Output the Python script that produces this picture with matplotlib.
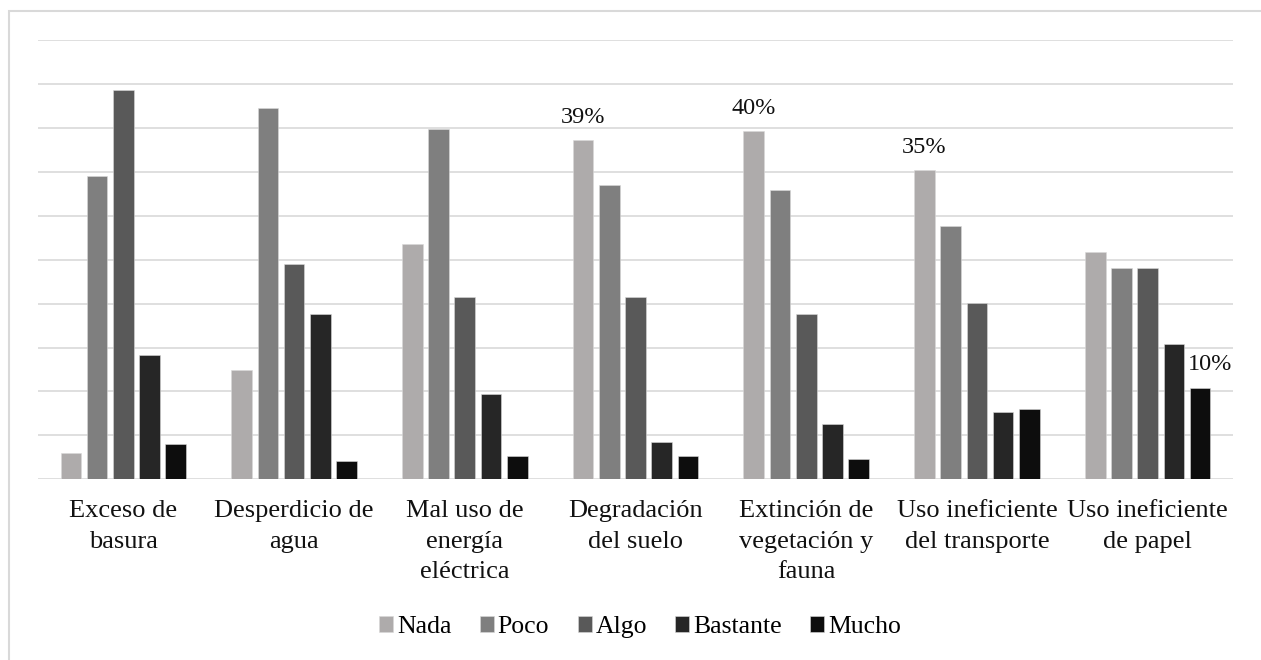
import numpy as np
import matplotlib.pyplot as plt
from matplotlib.patches import Rectangle

plt.rcParams['font.family'] = ['Liberation Serif', 'DejaVu Serif']

categorias = ['Exceso de\nbasura', 'Desperdicio de\nagua', 'Mal uso de\nenergía\neléctrica',
              'Degradación\ndel suelo', 'Extinción de\nvegetación y\nfauna',
              'Uso ineficiente\ndel transporte', 'Uso ineficiente\nde papel']
series = ['Nada', 'Poco', 'Algo', 'Bastante', 'Mucho']
colores = ['#AEABAB', '#7F7F7F', '#595959', '#262626', '#0D0D0D']

nada = [3.0, 12.4, 26.8, 38.6, 39.6, 35.2, 25.9]
poco = [34.5, 42.3, 39.9, 33.5, 32.9, 28.8, 24.1]
algo = [44.3, 24.5, 20.8, 20.8, 18.8, 20.1, 24.1]
bastante = [14.1, 18.8, 9.7, 4.3, 6.3, 7.7, 15.4]
mucho = [4.0, 2.05, 2.65, 2.65, 2.3, 8.0, 10.4]
valores = [nada, poco, algo, bastante, mucho]

# etiquetas visibles: (serie, categoria, texto)
etiquetas = [(0, 3, '39%'), (0, 4, '40%'), (0, 5, '35%'), (4, 6, '10%')]

fig = plt.figure(figsize=(12.61, 6.6), dpi=100)
ax = fig.add_axes([38/1261, 180.7/660, 1195/1261, 439.3/660])

x = np.arange(len(categorias))
paso = 0.1535
ancho = 0.121
barras = []
for i, (nombre, vals) in enumerate(zip(series, valores)):
    b = ax.bar(x + (i - 2) * paso, vals, ancho, color=colores[i], label=nombre,
               edgecolor='#d9d9d9', linewidth=0.4, zorder=3)
    barras.append(b)

for s, c, txt in etiquetas:
    r = barras[s][c]
    dx = 0.06 if s == 4 else 0
    ax.annotate(txt, (r.get_x() + r.get_width()/2 + dx, r.get_height()),
                xytext=(0, 9), textcoords='offset points',
                ha='center', va='bottom', fontsize=17.5, color='#111111')

ax.set_xlim(-0.5, len(categorias) - 0.5)
ax.set_ylim(0, 50)
ax.set_yticks(np.arange(0, 51, 5))
ax.yaxis.grid(True, color='#d9d9d9', linewidth=1.2, zorder=0)
ax.tick_params(axis='y', left=False, labelleft=False)
ax.tick_params(axis='x', length=0, pad=15)
ax.set_xticks(x)
ax.set_xticklabels(categorias, fontsize=19, color='#111111', linespacing=1.5)
for sp in ax.spines.values():
    sp.set_visible(False)

fig.legend(handles=barras, labels=series, loc='center', bbox_to_anchor=(640/1261, 1 - 627/660),
           ncol=5, frameon=False, fontsize=18.5, handlelength=0.55, handleheight=0.55,
           handletextpad=0.15, columnspacing=1.1)

# marco exterior del grafico
fig.patches.append(Rectangle((9/1261, -0.05), 1.1, 1 - 11/660 + 0.05, transform=fig.transFigure,
                             fill=False, edgecolor='#d9d9d9', linewidth=1.5))

fig.savefig('out.png', dpi=100)
